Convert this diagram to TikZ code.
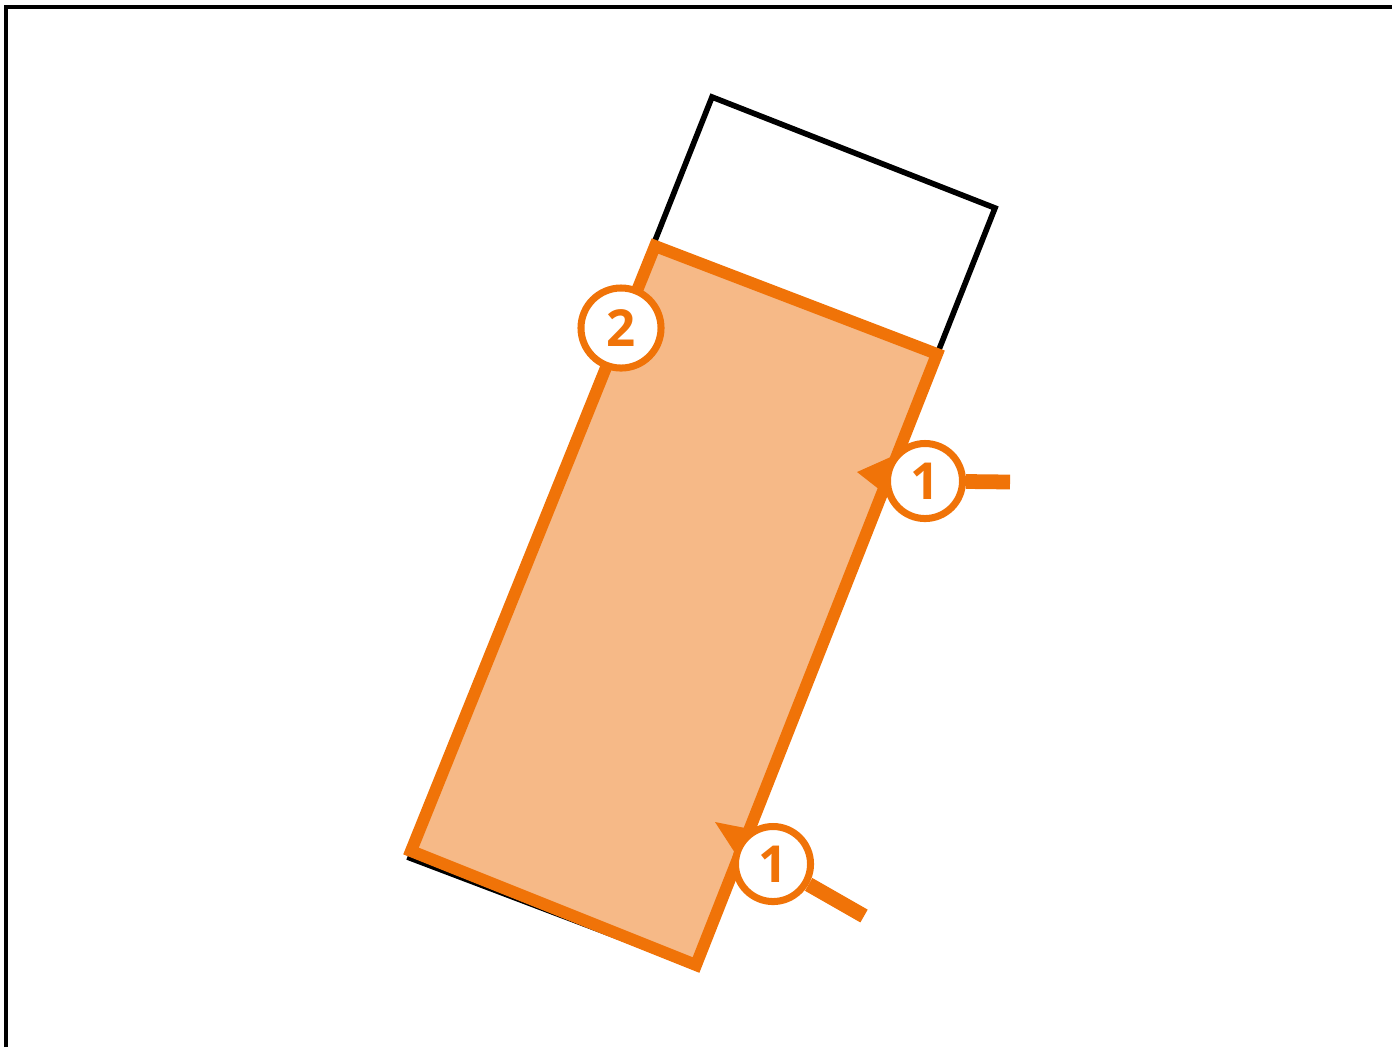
\documentclass[tikz,border=0pt]{standalone}
\usepackage{fontspec}
\setsansfont{Open Sans}
\usetikzlibrary{calc}
\definecolor{mOrange}{HTML}{F07308}
\definecolor{mPeach}{HTML}{F6B987}
\pgfdeclarelayer{bg}
\pgfdeclarelayer{mid}
\pgfsetlayers{bg,mid,main}

\begin{document}
\begin{tikzpicture}[x=0.01cm, y=-0.01cm,
      c/.style={circle, draw=mOrange, fill=white, line width=2pt,
        minimum size=0.75cm, inner sep=0pt, text=mOrange,
        font=\sffamily\bfseries\fontsize{14.5}{14.5}\selectfont},
      handle/.style={mOrange, line width=4.2pt},
      pointer/.style={fill=mOrange}]
    \useasboundingbox (0,0) rectangle (1392,1047);
    \draw[line width=1.1pt] (6,1047) -- (6,7) -- (1392,7);
    \begin{pgfonlayer}{bg}
      \draw[line width=1.6pt] (712,97) -- (995,208) -- (695,966) -- (410,858) -- cycle;
      \draw[mOrange, fill=mPeach, line width=3.4pt]
        (655,246) -- (937,354) -- (696,965) -- (411,851) -- cycle;
    \end{pgfonlayer}
    % callouts
    \node[c, minimum size=0.8cm] (n2) at (621,328) {2};
    \node[c] (n1a) at (925,481) {1};
    \node[c] (n1b) at (773,864) {1};
    \coordinate (p1a) at (857,472);
    \coordinate (p1b) at (715,822);
    \coordinate (h1a) at (1010,482);
    \coordinate (h1b) at (864,916);
    \begin{pgfonlayer}{mid}
      \draw[handle] (n1a) -- (h1a);
      \draw[handle] (n1b) -- (h1b);
      \fill[pointer] (p1a) -- (n1a.143) -- (n1a.200) -- cycle;
      \fill[pointer] (p1b) -- (n1b.122) -- (n1b.162) -- cycle;
    \end{pgfonlayer}
  \end{tikzpicture}
\end{document}
